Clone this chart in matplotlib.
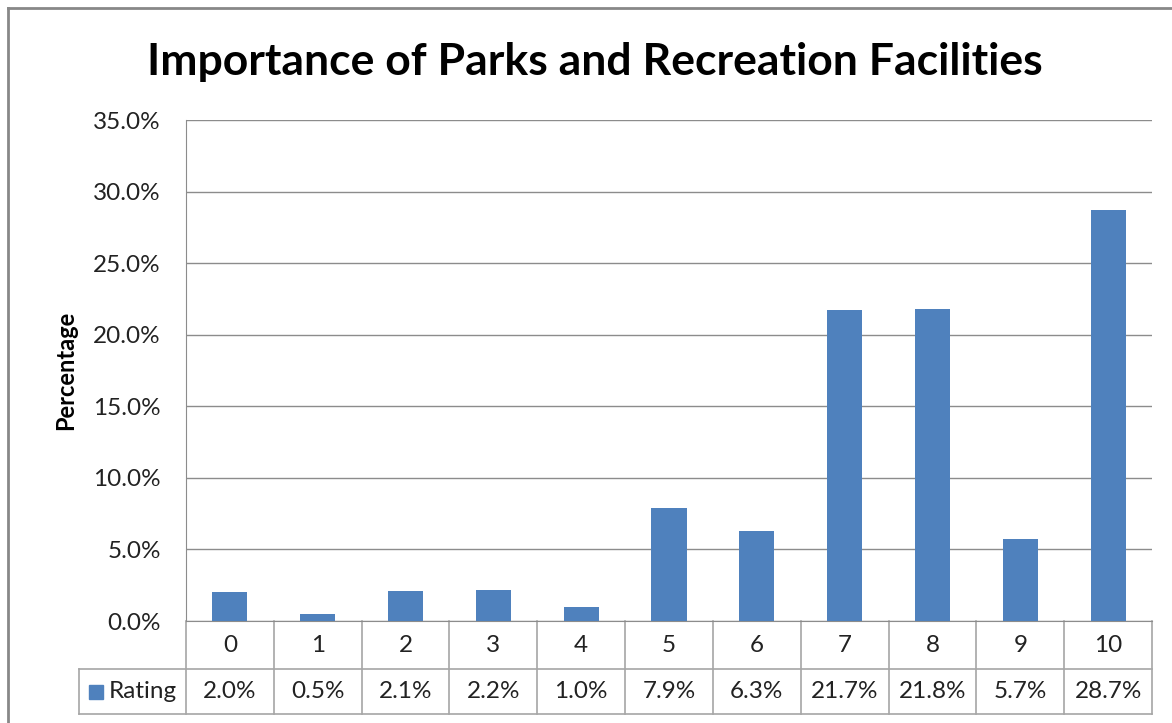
import matplotlib.pyplot as plt
import matplotlib.transforms as mtransforms
from matplotlib.patches import Rectangle

# Data
ratings = ['0', '1', '2', '3', '4', '5', '6', '7', '8', '9', '10']
percent = [2.0, 0.5, 2.1, 2.2, 1.0, 7.9, 6.3, 21.7, 21.8, 5.7, 28.7]
yticks = [0, 5, 10, 15, 20, 25, 30, 35]
series_name = 'Rating'

BAR = '#4F81BD'
GRID = '#8C8C8C'
TABLE = '#A6A6A6'
W, H = 1172, 723
FS = 17.5

plt.rcParams['font.family'] = ['Lato', 'DejaVu Sans']

fig = plt.figure(figsize=(W / 100, H / 100), dpi=100)

# outer chart border (cropped on right/bottom in the reference)
fig.add_artist(plt.Line2D([8 / W, 8 / W], [0, 1 - 8 / H], color='#888888', lw=2))
fig.add_artist(plt.Line2D([8 / W, 1], [1 - 8 / H, 1 - 8 / H], color='#888888', lw=2))

left, right, top, bottom = 186, 1152, 120, 621
ax = fig.add_axes([left / W, 1 - bottom / H, (right - left) / W, (bottom - top) / H])

x = list(range(len(ratings)))
ax.bar(x, percent, width=0.4, color=BAR, zorder=3)
ax.set_xlim(-0.5, len(ratings) - 0.5)
ax.set_ylim(0, 35)
ax.set_yticks(yticks)
ax.set_yticklabels([f'{v:.1f}%' for v in yticks], fontsize=FS, color='#222222')
ax.tick_params(axis='y', length=0, pad=18)
ax.set_xticks([])
ax.grid(axis='y', color=GRID, lw=1, zorder=0)
for s in ['top', 'right']:
    ax.spines[s].set_visible(False)
ax.spines['left'].set_color(GRID)
ax.spines['bottom'].set_color(GRID)

ax.set_ylabel('Percentage', fontsize=17, fontweight='bold', labelpad=12)
fig.text(595 / W, 1 - 62 / H, 'Importance of Parks and Recreation Facilities',
         ha='center', va='center', fontsize=32, fontweight='bold')

# data table below the plot
trans = mtransforms.blended_transform_factory(ax.transData, ax.transAxes)
ph = bottom - top
r1 = -(669 - bottom) / ph
r2 = -(714 - bottom) / ph
leg_left = (79 - left) / (right - left)
kw = dict(color=TABLE, lw=1.2, clip_on=False)
ax.plot([leg_left, 1], [r1, r1], transform=ax.transAxes, **kw)
ax.plot([leg_left, 1], [r2, r2], transform=ax.transAxes, **kw)
ax.plot([leg_left, leg_left], [r1, r2], transform=ax.transAxes, **kw)
for i in range(len(ratings) + 1):
    ax.plot([i - 0.5, i - 0.5], [0, r2], transform=trans, **kw)
for i, (lab, v) in enumerate(zip(ratings, percent)):
    ax.text(i, r1 / 2, lab, transform=trans, ha='center', va='center',
            fontsize=FS, color='#222222')
    ax.text(i, (r1 + r2) / 2, f'{v:.1f}%', transform=trans, ha='center',
            va='center', fontsize=FS, color='#222222')

# legend key in the table
sq = 14
ax.add_patch(Rectangle(((89 - left) / (right - left), (r1 + r2) / 2 - sq / 2 / ph),
                       sq / (right - left), sq / ph, transform=ax.transAxes,
                       color=BAR, clip_on=False))
ax.text((109 - left) / (right - left), (r1 + r2) / 2, series_name,
        transform=ax.transAxes, ha='left', va='center', fontsize=FS,
        color='#222222')

fig.savefig('out.png', dpi=100)
